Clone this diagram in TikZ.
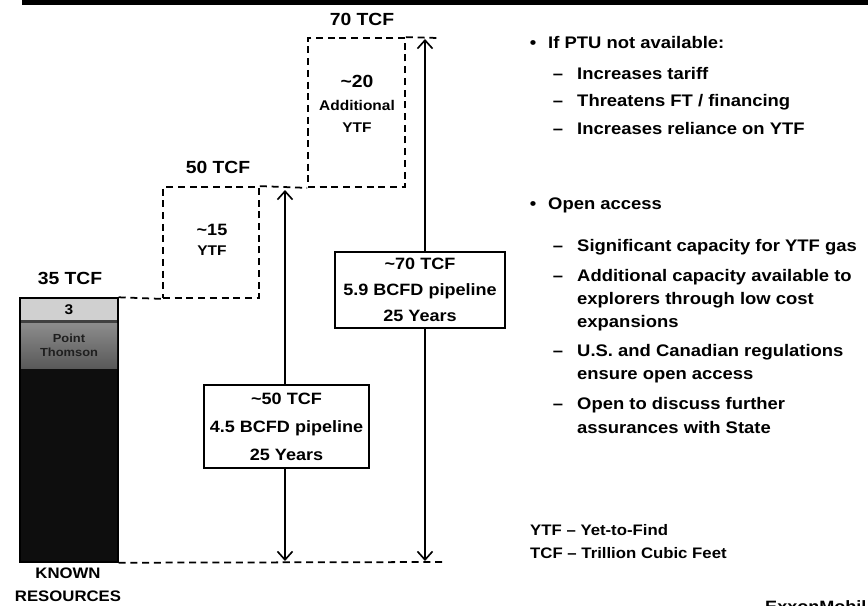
\documentclass[tikz,border=0pt]{standalone}
\usepackage{fontspec}
\setmainfont{Liberation Sans}[FakeStretch=1.1]
\usetikzlibrary{arrows.meta,positioning}
\definecolor{band}{HTML}{D0D0D0}
\definecolor{known}{HTML}{0E0E0E}

\begin{document}
\begin{tikzpicture}[x=0.03cm, y=-0.03cm,
    stepline/.style={dash pattern=on 6pt off 4pt, line width=1.5pt},
    ytfbox/.style={draw, stepline, inner sep=0pt},
    pipebox/.style={draw, line width=1.4pt, inner sep=0pt, align=center,
      fill=white, minimum width=5cm},
    head/.style={font=\bfseries\fontsize{15}{18}\selectfont, inner sep=0pt},
    item/.style={anchor=base west, font=\bfseries\fontsize{14.3}{18}\selectfont,
      inner sep=0pt},
    bul/.style={anchor=base, font=\bfseries\fontsize{14.3}{18}\selectfont,
      inner sep=0pt},
    note/.style={anchor=base west, font=\bfseries\fontsize{13}{16}\selectfont,
      inner sep=0pt},
    flow/.style={-{Straight Barb[length=2.5mm,width=4.5mm]}, line width=1.4pt},
  ]
  \useasboundingbox (0,0) rectangle (868,605);
  \clip (0,0) rectangle (868,605);
  \fill[black] (22,0) rectangle (868,5);

  % known resources column
  \node[draw, line width=1.2pt, fill=known, minimum width=2.94cm,
    minimum height=7.92cm, inner sep=0pt] (known) at (69,430) {};
  \fill[band] (21,299) rectangle (117,320);
  \fill[black!75] (21,320) rectangle (117,323);
  \shade[top color=black!45, bottom color=black!65] (21,323) rectangle (117,368);
  \node[head, font=\bfseries\fontsize{12}{14}\selectfont] (three) at (69,310) {3};
  \node[align=center, text=black!88, inner sep=0pt,
    font=\bfseries\fontsize{10}{12}\selectfont] (pt) at (69,345) {Point\\Thomson};
  \node[head] (tcf35) at (70,278) {35 TCF};
  \node[head, align=center, font=\bfseries\fontsize{13}{20}\selectfont]
    (knownlbl) at (68,585) {KNOWN\\RESOURCES};

  % yet-to-find steps
  \node[ytfbox, minimum width=2.88cm, minimum height=3.33cm] (ytf15) at (211,242.5) {};
  \node[align=center, inner sep=0pt, font=\bfseries\fontsize{12}{17}\selectfont]
    (ytf15lbl) at (212,240) {{\fontsize{14}{17}\selectfont\textasciitilde15}\\YTF};
  \node[head] (tcf50) at (218,167) {50 TCF};

  \node[ytfbox, minimum width=2.91cm, minimum height=4.47cm] (ytf20) at (356.5,112.5) {};
  \node[align=center, inner sep=0pt, font=\bfseries\fontsize{12}{19}\selectfont]
    (ytf20lbl) at (357,104) {{\fontsize{15}{19}\selectfont\textasciitilde20}\\Additional\\YTF};
  \node[head] (tcf70) at (362,19) {70 TCF};

  \coordinate (end70) at (438,38);
  \coordinate (end0) at (445,562);
  \draw[stepline] (known.north east) -- (ytf15.south west);
  \draw[stepline] (ytf15.north east) -- (ytf20.south west);
  \draw[stepline] (ytf20.north east) -- (end70);
  \draw[stepline] (known.south east) -- (end0);

  % pipeline boxes
  \node[pipebox, minimum width=4.95cm, minimum height=2.49cm,
    font=\bfseries\fontsize{14}{24}\selectfont] (pipe50) at (286.5,426.5)
    {\textasciitilde50 TCF\\4.5 BCFD pipeline\\25 Years};
  \node[pipebox, minimum width=5.1cm, minimum height=2.28cm,
    font=\bfseries\fontsize{14}{22}\selectfont] (pipe70) at (420,290)
    {\textasciitilde70 TCF\\5.9 BCFD pipeline\\25 Years};

  \coordinate (top50) at (285,190);
  \coordinate (bot50) at (285,561);
  \coordinate (top70) at (425,39);
  \coordinate (bot70) at (425,561);
  \draw[flow] (pipe50.north -| top50) -- (top50);
  \draw[flow] (pipe50.south -| bot50) -- (bot50);
  \draw[flow] (pipe70.north -| top70) -- (top70);
  \draw[flow] (pipe70.south -| bot70) -- (bot70);

  % bullet text
  \node[bul] (b1) at (533,48) {•};
  \node[item] (ptu) at (548,48) {If PTU not available:};
  \node[bul] (d11) at (558,79) {–};
  \node[item] (tariff) at (577,79) {Increases tariff};
  \node[bul] (d12) at (558,106) {–};
  \node[item] (ft) at (577,106) {Threatens FT / financing};
  \node[bul] (d13) at (558,134) {–};
  \node[item] (reliance) at (577,134) {Increases reliance on YTF};

  \node[bul] (b2) at (533,209) {•};
  \node[item] (open) at (548,209) {Open access};
  \node[bul] (d21) at (558,251) {–};
  \node[item] (gas) at (577,251) {Significant capacity for YTF gas};
  \node[bul] (d22) at (558,281) {–};
  \node[item] (cap1) at (577,281) {Additional capacity available to};
  \node[item] (cap2) at (577,304) {explorers through low cost};
  \node[item] (cap3) at (577,327) {expansions};
  \node[bul] (d23) at (558,356) {–};
  \node[item] (reg1) at (577,356) {U.S. and Canadian regulations};
  \node[item] (reg2) at (577,379) {ensure open access};
  \node[bul] (d24) at (558,409) {–};
  \node[item] (dis1) at (577,409) {Open to discuss further};
  \node[item] (dis2) at (577,433) {assurances with State};

  % legend
  \node[note] (ytfnote) at (530,535) {YTF – Yet-to-Find};
  \node[note] (tcfnote) at (530,558) {TCF – Trillion Cubic Feet};

  \node[anchor=north west, inner sep=0pt, font=\bfseries\fontsize{14}{16}\selectfont]
    (logo) at (765,600) {ExxonMobil};
\end{tikzpicture}
\end{document}
